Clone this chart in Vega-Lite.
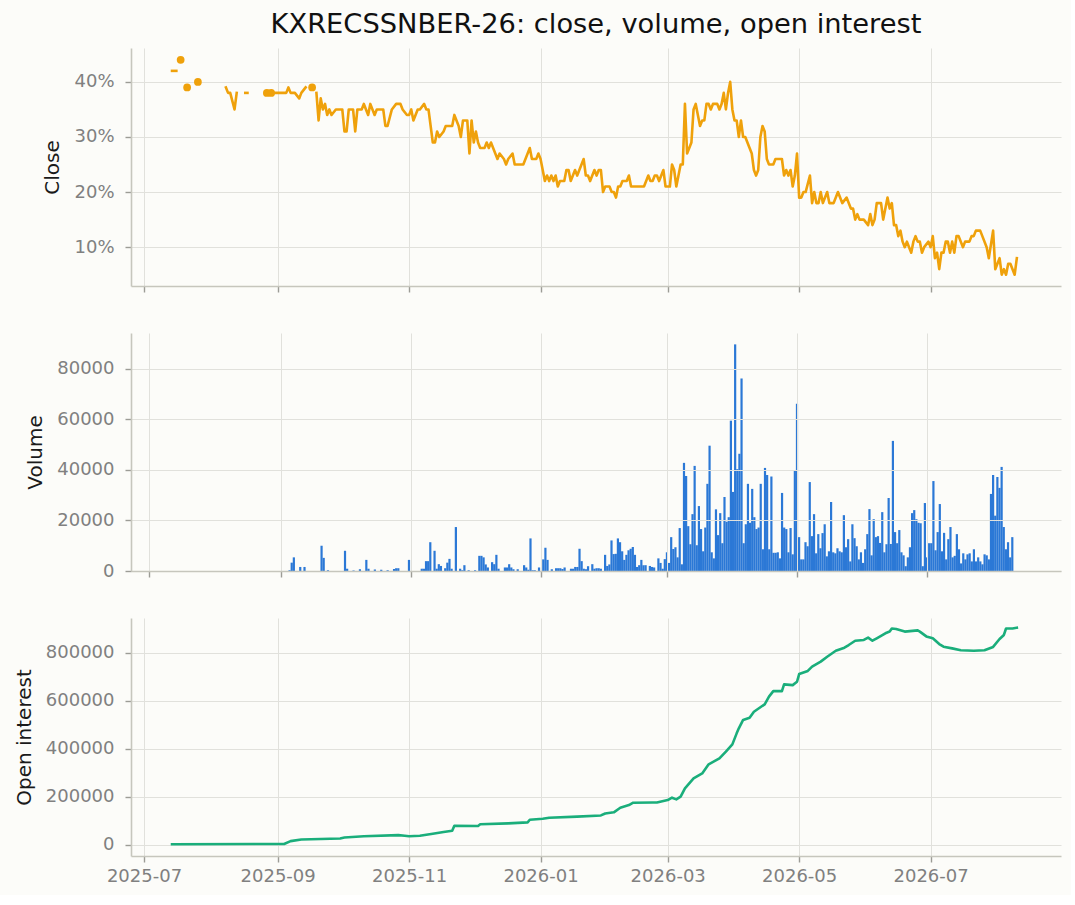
{
"$schema":"https://vega.github.io/schema/vega-lite/v6.json",
"background":"#fcfcf9",
"padding":{"left":14,"top":10,"right":10,"bottom":10},
"config":{
 "view":{"stroke":null},
 "axis":{"labelFont":"DejaVu Sans","labelFontSize":18,"labelColor":"#808080","titleFont":"DejaVu Sans","titleFontSize":20,"titleFontWeight":"normal","titleColor":"#1a1a1a","domainColor":"#c6c6bd","domainWidth":1.6,"tickColor":"#9c9c96","tickSize":6,"tickWidth":1.4,"gridColor":"#e1e1dc","gridWidth":1,"titlePadding":11,"labelFlush":false},
 "axisX":{"labelPadding":5},
 "axisY":{"labelPadding":11}
},
"datasets":{
"close":[
{"date":"2025-07-14","v":0.42,"seg":1},{"date":"2025-07-16","v":0.42,"seg":1},
{"date":"2025-07-18","v":0.44,"seg":2},
{"date":"2025-07-21","v":0.39,"seg":3},
{"date":"2025-07-26","v":0.40,"seg":4},
{"date":"2025-08-08","v":0.39,"seg":5},{"date":"2025-08-09","v":0.38,"seg":5},{"date":"2025-08-10","v":0.38,"seg":5},{"date":"2025-08-12","v":0.35,"seg":5},{"date":"2025-08-13","v":0.38,"seg":5},
{"date":"2025-08-17","v":0.38,"seg":6},{"date":"2025-08-18","v":0.38,"seg":6},
{"date":"2025-08-27","v":0.38,"seg":7},
{"date":"2025-08-29","v":0.38,"seg":8},
{"date":"2025-08-31","v":0.38,"seg":9},{"date":"2025-09-05","v":0.38,"seg":9},{"date":"2025-09-06","v":0.39,"seg":9},{"date":"2025-09-07","v":0.38,"seg":9},{"date":"2025-09-09","v":0.38,"seg":9},{"date":"2025-09-11","v":0.37,"seg":9},{"date":"2025-09-12","v":0.38,"seg":9},{"date":"2025-09-13","v":0.385,"seg":9},{"date":"2025-09-14","v":0.39,"seg":9},
{"date":"2025-09-17","v":0.39,"seg":10},
{"date":"2025-09-19","v":0.38,"seg":11},{"date":"2025-09-20","v":0.33,"seg":11},{"date":"2025-09-21","v":0.37,"seg":11},{"date":"2025-09-22","v":0.35,"seg":11},{"date":"2025-09-23","v":0.36,"seg":11},{"date":"2025-09-24","v":0.34,"seg":11},{"date":"2025-09-25","v":0.35,"seg":11},{"date":"2025-09-26","v":0.34,"seg":11},{"date":"2025-09-28","v":0.35,"seg":11},
{"date":"2025-10-01","v":0.35,"seg":11},{"date":"2025-10-02","v":0.31,"seg":11},{"date":"2025-10-03","v":0.31,"seg":11},{"date":"2025-10-04","v":0.35,"seg":11},{"date":"2025-10-06","v":0.35,"seg":11},{"date":"2025-10-07","v":0.31,"seg":11},{"date":"2025-10-08","v":0.35,"seg":11},{"date":"2025-10-10","v":0.35,"seg":11},{"date":"2025-10-11","v":0.36,"seg":11},{"date":"2025-10-13","v":0.34,"seg":11},{"date":"2025-10-14","v":0.36,"seg":11},{"date":"2025-10-16","v":0.34,"seg":11},{"date":"2025-10-17","v":0.35,"seg":11},{"date":"2025-10-20","v":0.35,"seg":11},{"date":"2025-10-21","v":0.32,"seg":11},{"date":"2025-10-22","v":0.32,"seg":11},{"date":"2025-10-24","v":0.35,"seg":11},{"date":"2025-10-26","v":0.36,"seg":11},{"date":"2025-10-28","v":0.36,"seg":11},{"date":"2025-10-29","v":0.35,"seg":11},{"date":"2025-10-31","v":0.34,"seg":11},
{"date":"2025-11-01","v":0.34,"seg":11},{"date":"2025-11-02","v":0.35,"seg":11},{"date":"2025-11-03","v":0.33,"seg":11},{"date":"2025-11-05","v":0.35,"seg":11},{"date":"2025-11-06","v":0.35,"seg":11},{"date":"2025-11-08","v":0.36,"seg":11},{"date":"2025-11-09","v":0.35,"seg":11},{"date":"2025-11-10","v":0.35,"seg":11},{"date":"2025-11-12","v":0.29,"seg":11},{"date":"2025-11-13","v":0.29,"seg":11},{"date":"2025-11-14","v":0.31,"seg":11},{"date":"2025-11-15","v":0.30,"seg":11},{"date":"2025-11-17","v":0.31,"seg":11},{"date":"2025-11-18","v":0.32,"seg":11},{"date":"2025-11-21","v":0.32,"seg":11},{"date":"2025-11-22","v":0.34,"seg":11},{"date":"2025-11-24","v":0.32,"seg":11},{"date":"2025-11-25","v":0.30,"seg":11},{"date":"2025-11-26","v":0.33,"seg":11},{"date":"2025-11-28","v":0.33,"seg":11},{"date":"2025-11-29","v":0.27,"seg":11},{"date":"2025-11-30","v":0.33,"seg":11},
{"date":"2025-12-01","v":0.29,"seg":11},{"date":"2025-12-02","v":0.31,"seg":11},{"date":"2025-12-03","v":0.29,"seg":11},{"date":"2025-12-04","v":0.28,"seg":11},{"date":"2025-12-06","v":0.28,"seg":11},{"date":"2025-12-07","v":0.29,"seg":11},{"date":"2025-12-08","v":0.28,"seg":11},{"date":"2025-12-09","v":0.29,"seg":11},{"date":"2025-12-11","v":0.27,"seg":11},{"date":"2025-12-12","v":0.26,"seg":11},{"date":"2025-12-13","v":0.27,"seg":11},{"date":"2025-12-15","v":0.26,"seg":11},{"date":"2025-12-16","v":0.25,"seg":11},{"date":"2025-12-17","v":0.26,"seg":11},{"date":"2025-12-19","v":0.27,"seg":11},{"date":"2025-12-20","v":0.25,"seg":11},{"date":"2025-12-24","v":0.25,"seg":11},{"date":"2025-12-25","v":0.26,"seg":11},{"date":"2025-12-27","v":0.28,"seg":11},{"date":"2025-12-28","v":0.26,"seg":11},{"date":"2025-12-30","v":0.26,"seg":11},{"date":"2025-12-31","v":0.27,"seg":11},
{"date":"2026-01-01","v":0.26,"seg":11},{"date":"2026-01-03","v":0.22,"seg":11},{"date":"2026-01-04","v":0.23,"seg":11},{"date":"2026-01-05","v":0.22,"seg":11},{"date":"2026-01-06","v":0.23,"seg":11},{"date":"2026-01-07","v":0.22,"seg":11},{"date":"2026-01-08","v":0.23,"seg":11},{"date":"2026-01-09","v":0.21,"seg":11},{"date":"2026-01-10","v":0.22,"seg":11},{"date":"2026-01-12","v":0.22,"seg":11},{"date":"2026-01-13","v":0.24,"seg":11},{"date":"2026-01-14","v":0.24,"seg":11},{"date":"2026-01-15","v":0.22,"seg":11},{"date":"2026-01-17","v":0.24,"seg":11},{"date":"2026-01-18","v":0.23,"seg":11},{"date":"2026-01-19","v":0.24,"seg":11},{"date":"2026-01-21","v":0.26,"seg":11},{"date":"2026-01-22","v":0.23,"seg":11},{"date":"2026-01-23","v":0.23,"seg":11},{"date":"2026-01-24","v":0.22,"seg":11},{"date":"2026-01-26","v":0.24,"seg":11},{"date":"2026-01-27","v":0.23,"seg":11},{"date":"2026-01-28","v":0.24,"seg":11},{"date":"2026-01-29","v":0.24,"seg":11},{"date":"2026-01-30","v":0.20,"seg":11},{"date":"2026-01-31","v":0.21,"seg":11},
{"date":"2026-02-02","v":0.21,"seg":11},{"date":"2026-02-03","v":0.20,"seg":11},{"date":"2026-02-04","v":0.20,"seg":11},{"date":"2026-02-05","v":0.19,"seg":11},{"date":"2026-02-06","v":0.21,"seg":11},{"date":"2026-02-07","v":0.21,"seg":11},{"date":"2026-02-08","v":0.22,"seg":11},{"date":"2026-02-10","v":0.22,"seg":11},{"date":"2026-02-11","v":0.23,"seg":11},{"date":"2026-02-12","v":0.21,"seg":11},{"date":"2026-02-18","v":0.21,"seg":11},{"date":"2026-02-20","v":0.23,"seg":11},{"date":"2026-02-21","v":0.22,"seg":11},{"date":"2026-02-22","v":0.22,"seg":11},{"date":"2026-02-23","v":0.23,"seg":11},{"date":"2026-02-24","v":0.23,"seg":11},{"date":"2026-02-25","v":0.22,"seg":11},{"date":"2026-02-27","v":0.24,"seg":11},{"date":"2026-02-28","v":0.21,"seg":11},
{"date":"2026-03-02","v":0.21,"seg":11},{"date":"2026-03-03","v":0.25,"seg":11},{"date":"2026-03-04","v":0.24,"seg":11},{"date":"2026-03-05","v":0.21,"seg":11},{"date":"2026-03-07","v":0.25,"seg":11},{"date":"2026-03-08","v":0.25,"seg":11},{"date":"2026-03-09","v":0.36,"seg":11},{"date":"2026-03-10","v":0.27,"seg":11},{"date":"2026-03-11","v":0.28,"seg":11},{"date":"2026-03-12","v":0.29,"seg":11},{"date":"2026-03-13","v":0.35,"seg":11},{"date":"2026-03-14","v":0.36,"seg":11},{"date":"2026-03-15","v":0.34,"seg":11},{"date":"2026-03-16","v":0.32,"seg":11},{"date":"2026-03-17","v":0.33,"seg":11},{"date":"2026-03-18","v":0.33,"seg":11},{"date":"2026-03-19","v":0.36,"seg":11},{"date":"2026-03-20","v":0.36,"seg":11},{"date":"2026-03-21","v":0.35,"seg":11},{"date":"2026-03-22","v":0.36,"seg":11},{"date":"2026-03-24","v":0.36,"seg":11},{"date":"2026-03-25","v":0.35,"seg":11},{"date":"2026-03-26","v":0.36,"seg":11},{"date":"2026-03-27","v":0.38,"seg":11},{"date":"2026-03-28","v":0.35,"seg":11},{"date":"2026-03-29","v":0.38,"seg":11},{"date":"2026-03-30","v":0.40,"seg":11},{"date":"2026-03-31","v":0.35,"seg":11},
{"date":"2026-04-01","v":0.33,"seg":11},{"date":"2026-04-02","v":0.33,"seg":11},{"date":"2026-04-03","v":0.30,"seg":11},{"date":"2026-04-04","v":0.33,"seg":11},{"date":"2026-04-05","v":0.30,"seg":11},{"date":"2026-04-06","v":0.30,"seg":11},{"date":"2026-04-08","v":0.28,"seg":11},{"date":"2026-04-09","v":0.27,"seg":11},{"date":"2026-04-10","v":0.24,"seg":11},{"date":"2026-04-11","v":0.23,"seg":11},{"date":"2026-04-12","v":0.24,"seg":11},{"date":"2026-04-13","v":0.30,"seg":11},{"date":"2026-04-14","v":0.32,"seg":11},{"date":"2026-04-15","v":0.31,"seg":11},{"date":"2026-04-16","v":0.26,"seg":11},{"date":"2026-04-17","v":0.25,"seg":11},{"date":"2026-04-19","v":0.25,"seg":11},{"date":"2026-04-20","v":0.26,"seg":11},{"date":"2026-04-23","v":0.26,"seg":11},{"date":"2026-04-24","v":0.23,"seg":11},{"date":"2026-04-25","v":0.24,"seg":11},{"date":"2026-04-26","v":0.23,"seg":11},{"date":"2026-04-27","v":0.24,"seg":11},{"date":"2026-04-28","v":0.21,"seg":11},{"date":"2026-04-29","v":0.23,"seg":11},{"date":"2026-04-30","v":0.27,"seg":11},
{"date":"2026-05-01","v":0.19,"seg":11},{"date":"2026-05-02","v":0.19,"seg":11},{"date":"2026-05-03","v":0.20,"seg":11},{"date":"2026-05-04","v":0.20,"seg":11},{"date":"2026-05-06","v":0.23,"seg":11},{"date":"2026-05-07","v":0.18,"seg":11},{"date":"2026-05-08","v":0.20,"seg":11},{"date":"2026-05-09","v":0.18,"seg":11},{"date":"2026-05-10","v":0.18,"seg":11},{"date":"2026-05-11","v":0.20,"seg":11},{"date":"2026-05-12","v":0.18,"seg":11},{"date":"2026-05-14","v":0.20,"seg":11},{"date":"2026-05-15","v":0.18,"seg":11},{"date":"2026-05-17","v":0.18,"seg":11},{"date":"2026-05-19","v":0.20,"seg":11},{"date":"2026-05-20","v":0.19,"seg":11},{"date":"2026-05-21","v":0.18,"seg":11},{"date":"2026-05-23","v":0.19,"seg":11},{"date":"2026-05-24","v":0.18,"seg":11},{"date":"2026-05-25","v":0.17,"seg":11},{"date":"2026-05-26","v":0.17,"seg":11},{"date":"2026-05-27","v":0.15,"seg":11},{"date":"2026-05-28","v":0.16,"seg":11},{"date":"2026-05-29","v":0.15,"seg":11},{"date":"2026-05-31","v":0.15,"seg":11},
{"date":"2026-06-02","v":0.14,"seg":11},{"date":"2026-06-03","v":0.16,"seg":11},{"date":"2026-06-04","v":0.14,"seg":11},{"date":"2026-06-05","v":0.15,"seg":11},{"date":"2026-06-06","v":0.18,"seg":11},{"date":"2026-06-08","v":0.18,"seg":11},{"date":"2026-06-09","v":0.15,"seg":11},{"date":"2026-06-10","v":0.17,"seg":11},{"date":"2026-06-11","v":0.19,"seg":11},{"date":"2026-06-12","v":0.17,"seg":11},{"date":"2026-06-13","v":0.18,"seg":11},{"date":"2026-06-14","v":0.14,"seg":11},{"date":"2026-06-15","v":0.14,"seg":11},{"date":"2026-06-16","v":0.12,"seg":11},{"date":"2026-06-17","v":0.13,"seg":11},{"date":"2026-06-18","v":0.11,"seg":11},{"date":"2026-06-19","v":0.10,"seg":11},{"date":"2026-06-20","v":0.11,"seg":11},{"date":"2026-06-21","v":0.10,"seg":11},{"date":"2026-06-22","v":0.09,"seg":11},{"date":"2026-06-23","v":0.11,"seg":11},{"date":"2026-06-24","v":0.12,"seg":11},{"date":"2026-06-25","v":0.11,"seg":11},{"date":"2026-06-26","v":0.11,"seg":11},{"date":"2026-06-27","v":0.09,"seg":11},{"date":"2026-06-28","v":0.10,"seg":11},{"date":"2026-06-30","v":0.11,"seg":11},
{"date":"2026-07-01","v":0.10,"seg":11},{"date":"2026-07-02","v":0.12,"seg":11},{"date":"2026-07-03","v":0.08,"seg":11},{"date":"2026-07-04","v":0.09,"seg":11},{"date":"2026-07-05","v":0.06,"seg":11},{"date":"2026-07-06","v":0.09,"seg":11},{"date":"2026-07-07","v":0.09,"seg":11},{"date":"2026-07-08","v":0.11,"seg":11},{"date":"2026-07-09","v":0.11,"seg":11},{"date":"2026-07-10","v":0.09,"seg":11},{"date":"2026-07-11","v":0.11,"seg":11},{"date":"2026-07-12","v":0.09,"seg":11},{"date":"2026-07-13","v":0.12,"seg":11},{"date":"2026-07-14","v":0.12,"seg":11},{"date":"2026-07-16","v":0.10,"seg":11},{"date":"2026-07-17","v":0.11,"seg":11},{"date":"2026-07-19","v":0.11,"seg":11},{"date":"2026-07-20","v":0.12,"seg":11},{"date":"2026-07-21","v":0.12,"seg":11},{"date":"2026-07-22","v":0.13,"seg":11},{"date":"2026-07-24","v":0.13,"seg":11},{"date":"2026-07-25","v":0.12,"seg":11},{"date":"2026-07-27","v":0.10,"seg":11},{"date":"2026-07-28","v":0.08,"seg":11},{"date":"2026-07-30","v":0.13,"seg":11},{"date":"2026-07-31","v":0.06,"seg":11},
{"date":"2026-08-02","v":0.08,"seg":11},{"date":"2026-08-03","v":0.05,"seg":11},{"date":"2026-08-04","v":0.06,"seg":11},{"date":"2026-08-05","v":0.05,"seg":11},{"date":"2026-08-06","v":0.07,"seg":11},{"date":"2026-08-07","v":0.07,"seg":11},{"date":"2026-08-09","v":0.05,"seg":11},{"date":"2026-08-10","v":0.08,"seg":11}
],
"volume":[
{"date":"2025-09-05","v":300},{"date":"2025-09-06","v":3300},{"date":"2025-09-07","v":5400},{"date":"2025-09-10","v":1600},{"date":"2025-09-12","v":1600},{"date":"2025-09-20","v":10000},{"date":"2025-09-21","v":5200},{"date":"2025-09-23","v":300},
{"date":"2025-10-01","v":8000},{"date":"2025-10-02","v":900},{"date":"2025-10-05","v":200},{"date":"2025-10-08","v":700},{"date":"2025-10-11","v":4400},{"date":"2025-10-12","v":900},{"date":"2025-10-15","v":600},{"date":"2025-10-18","v":500},{"date":"2025-10-21","v":300},{"date":"2025-10-24","v":800},{"date":"2025-10-25","v":1100},{"date":"2025-10-26","v":1100},{"date":"2025-10-31","v":4400},
{"date":"2025-11-06","v":900},{"date":"2025-11-07","v":900},{"date":"2025-11-08","v":3900},{"date":"2025-11-09","v":3900},{"date":"2025-11-10","v":11400},{"date":"2025-11-12","v":8000},{"date":"2025-11-13","v":900},{"date":"2025-11-14","v":2700},{"date":"2025-11-15","v":2000},{"date":"2025-11-17","v":1100},{"date":"2025-11-18","v":3300},{"date":"2025-11-19","v":4800},{"date":"2025-11-20","v":900},{"date":"2025-11-22","v":17400},{"date":"2025-11-24","v":900},{"date":"2025-11-25","v":300},{"date":"2025-11-26","v":2300},{"date":"2025-11-28","v":300},
{"date":"2025-12-01","v":300},{"date":"2025-12-03","v":6000},{"date":"2025-12-04","v":6000},{"date":"2025-12-05","v":5400},{"date":"2025-12-06","v":2600},{"date":"2025-12-07","v":1400},{"date":"2025-12-09","v":3500},{"date":"2025-12-10","v":2700},{"date":"2025-12-11","v":6400},{"date":"2025-12-12","v":900},{"date":"2025-12-15","v":1400},{"date":"2025-12-16","v":1400},{"date":"2025-12-17","v":2700},{"date":"2025-12-18","v":1400},{"date":"2025-12-19","v":700},{"date":"2025-12-21","v":700},{"date":"2025-12-24","v":2300},{"date":"2025-12-25","v":1400},{"date":"2025-12-26","v":500},{"date":"2025-12-27","v":12900},{"date":"2025-12-28","v":300},{"date":"2025-12-29","v":300},{"date":"2025-12-31","v":1400},
{"date":"2026-01-02","v":4600},{"date":"2026-01-03","v":9200},{"date":"2026-01-04","v":4400},{"date":"2026-01-06","v":700},{"date":"2026-01-08","v":1100},{"date":"2026-01-09","v":1100},{"date":"2026-01-10","v":1100},{"date":"2026-01-11","v":800},{"date":"2026-01-12","v":1400},{"date":"2026-01-15","v":900},{"date":"2026-01-16","v":900},{"date":"2026-01-17","v":1600},{"date":"2026-01-18","v":1600},{"date":"2026-01-19","v":8800},{"date":"2026-01-20","v":3900},{"date":"2026-01-21","v":900},{"date":"2026-01-22","v":700},{"date":"2026-01-23","v":1900},{"date":"2026-01-25","v":2700},{"date":"2026-01-26","v":900},{"date":"2026-01-27","v":1100},{"date":"2026-01-28","v":1100},{"date":"2026-01-29","v":900},{"date":"2026-01-31","v":6400},
{"date":"2026-02-01","v":2000},{"date":"2026-02-02","v":2600},{"date":"2026-02-03","v":12100},{"date":"2026-02-04","v":6700},{"date":"2026-02-05","v":6800},{"date":"2026-02-06","v":12900},{"date":"2026-02-07","v":11400},{"date":"2026-02-08","v":7800},{"date":"2026-02-09","v":4400},{"date":"2026-02-10","v":6400},{"date":"2026-02-11","v":8200},{"date":"2026-02-12","v":8800},{"date":"2026-02-13","v":9500},{"date":"2026-02-14","v":6400},{"date":"2026-02-15","v":1600},{"date":"2026-02-16","v":2300},{"date":"2026-02-17","v":4400},{"date":"2026-02-18","v":2300},{"date":"2026-02-19","v":2300},{"date":"2026-02-21","v":2000},{"date":"2026-02-22","v":1600},{"date":"2026-02-23","v":1400},{"date":"2026-02-25","v":5000},{"date":"2026-02-26","v":3200},{"date":"2026-02-27","v":900},{"date":"2026-02-28","v":4700},
{"date":"2026-03-01","v":7400},{"date":"2026-03-02","v":3200},{"date":"2026-03-03","v":13400},{"date":"2026-03-04","v":8700},{"date":"2026-03-05","v":9400},{"date":"2026-03-06","v":5400},{"date":"2026-03-07","v":17000},{"date":"2026-03-08","v":2650},{"date":"2026-03-09","v":42800},{"date":"2026-03-10","v":37600},{"date":"2026-03-11","v":17750},{"date":"2026-03-12","v":10600},{"date":"2026-03-13","v":22500},{"date":"2026-03-14","v":41600},{"date":"2026-03-15","v":10200},{"date":"2026-03-16","v":25700},{"date":"2026-03-17","v":16600},{"date":"2026-03-18","v":7800},{"date":"2026-03-19","v":17200},{"date":"2026-03-20","v":34500},{"date":"2026-03-21","v":49600},{"date":"2026-03-22","v":7400},{"date":"2026-03-23","v":5000},{"date":"2026-03-24","v":24400},{"date":"2026-03-25","v":14200},{"date":"2026-03-26","v":22900},{"date":"2026-03-27","v":11000},{"date":"2026-03-28","v":29300},{"date":"2026-03-29","v":19500},{"date":"2026-03-30","v":21300},{"date":"2026-03-31","v":59500},
{"date":"2026-04-01","v":31300},{"date":"2026-04-02","v":89700},{"date":"2026-04-03","v":40300},{"date":"2026-04-04","v":46400},{"date":"2026-04-05","v":76200},{"date":"2026-04-06","v":11000},{"date":"2026-04-07","v":18500},{"date":"2026-04-08","v":34500},{"date":"2026-04-09","v":19100},{"date":"2026-04-10","v":32500},{"date":"2026-04-11","v":21300},{"date":"2026-04-12","v":16600},{"date":"2026-04-13","v":17200},{"date":"2026-04-14","v":34500},{"date":"2026-04-15","v":8600},{"date":"2026-04-16","v":40800},{"date":"2026-04-17","v":38000},{"date":"2026-04-18","v":8600},{"date":"2026-04-19","v":37400},{"date":"2026-04-20","v":7200},{"date":"2026-04-21","v":7200},{"date":"2026-04-22","v":7400},{"date":"2026-04-23","v":5000},{"date":"2026-04-24","v":30900},{"date":"2026-04-25","v":17200},{"date":"2026-04-26","v":16600},{"date":"2026-04-27","v":7400},{"date":"2026-04-28","v":17000},{"date":"2026-04-29","v":6600},{"date":"2026-04-30","v":39600},
{"date":"2026-05-01","v":66200},{"date":"2026-05-02","v":13400},{"date":"2026-05-03","v":4600},{"date":"2026-05-04","v":4600},{"date":"2026-05-05","v":11400},{"date":"2026-05-06","v":9800},{"date":"2026-05-07","v":35200},{"date":"2026-05-08","v":13800},{"date":"2026-05-09","v":22500},{"date":"2026-05-10","v":7000},{"date":"2026-05-11","v":14600},{"date":"2026-05-12","v":9000},{"date":"2026-05-13","v":15000},{"date":"2026-05-14","v":18500},{"date":"2026-05-15","v":5800},{"date":"2026-05-16","v":7800},{"date":"2026-05-17","v":27300},{"date":"2026-05-18","v":7400},{"date":"2026-05-19","v":7000},{"date":"2026-05-20","v":9000},{"date":"2026-05-21","v":7800},{"date":"2026-05-22","v":7400},{"date":"2026-05-23","v":22100},{"date":"2026-05-24","v":9400},{"date":"2026-05-25","v":12600},{"date":"2026-05-26","v":3800},{"date":"2026-05-27","v":18500},{"date":"2026-05-28","v":13000},{"date":"2026-05-29","v":9800},{"date":"2026-05-30","v":4600},{"date":"2026-05-31","v":7400},
{"date":"2026-06-01","v":3200},{"date":"2026-06-02","v":8600},{"date":"2026-06-03","v":14600},{"date":"2026-06-04","v":24500},{"date":"2026-06-05","v":6200},{"date":"2026-06-06","v":20500},{"date":"2026-06-07","v":13400},{"date":"2026-06-08","v":13800},{"date":"2026-06-09","v":11100},{"date":"2026-06-10","v":23300},{"date":"2026-06-11","v":7400},{"date":"2026-06-12","v":10600},{"date":"2026-06-13","v":28900},{"date":"2026-06-14","v":10700},{"date":"2026-06-15","v":51500},{"date":"2026-06-16","v":15400},{"date":"2026-06-17","v":11000},{"date":"2026-06-18","v":16200},{"date":"2026-06-19","v":7400},{"date":"2026-06-20","v":6200},{"date":"2026-06-21","v":1900},{"date":"2026-06-22","v":5400},{"date":"2026-06-23","v":9400},{"date":"2026-06-24","v":22900},{"date":"2026-06-25","v":24100},{"date":"2026-06-26","v":20500},{"date":"2026-06-27","v":19100},{"date":"2026-06-28","v":18900},{"date":"2026-06-29","v":1900},{"date":"2026-06-30","v":26900},
{"date":"2026-07-01","v":5400},{"date":"2026-07-02","v":11000},{"date":"2026-07-03","v":11000},{"date":"2026-07-04","v":35600},{"date":"2026-07-05","v":8200},{"date":"2026-07-06","v":15400},{"date":"2026-07-07","v":26500},{"date":"2026-07-08","v":7800},{"date":"2026-07-09","v":15100},{"date":"2026-07-10","v":4600},{"date":"2026-07-11","v":12600},{"date":"2026-07-12","v":17400},{"date":"2026-07-13","v":5400},{"date":"2026-07-14","v":6000},{"date":"2026-07-15","v":14600},{"date":"2026-07-16","v":8600},{"date":"2026-07-17","v":3000},{"date":"2026-07-18","v":7000},{"date":"2026-07-19","v":4600},{"date":"2026-07-20","v":6600},{"date":"2026-07-21","v":7000},{"date":"2026-07-22","v":3800},{"date":"2026-07-23","v":8600},{"date":"2026-07-24","v":3800},{"date":"2026-07-25","v":5400},{"date":"2026-07-26","v":3800},{"date":"2026-07-27","v":2650},{"date":"2026-07-28","v":6600},{"date":"2026-07-29","v":6200},{"date":"2026-07-30","v":4600},{"date":"2026-07-31","v":30500},
{"date":"2026-08-01","v":38000},{"date":"2026-08-02","v":21900},{"date":"2026-08-03","v":37200},{"date":"2026-08-04","v":32900},{"date":"2026-08-05","v":41200},{"date":"2026-08-06","v":17400},{"date":"2026-08-07","v":8600},{"date":"2026-08-08","v":11400},{"date":"2026-08-09","v":5400},{"date":"2026-08-10","v":13400}
],
"oi":[
{"date":"2025-07-14","v":2000},{"date":"2025-09-04","v":3000},{"date":"2025-09-07","v":15000},{"date":"2025-09-12","v":22000},{"date":"2025-09-30","v":26000},{"date":"2025-10-02","v":30000},{"date":"2025-10-11","v":35000},{"date":"2025-10-27","v":40000},{"date":"2025-10-30","v":37500},{"date":"2025-11-01","v":35000},{"date":"2025-11-06","v":37500},{"date":"2025-11-12","v":46000},{"date":"2025-11-17","v":53000},{"date":"2025-11-21","v":58000},{"date":"2025-11-22","v":79000},{"date":"2025-12-03","v":78000},{"date":"2025-12-04","v":85000},{"date":"2025-12-17","v":89000},{"date":"2025-12-26","v":93000},{"date":"2025-12-27","v":104000},
{"date":"2026-01-02","v":108000},{"date":"2026-01-05","v":112500},{"date":"2026-01-18","v":117000},{"date":"2026-01-29","v":122000},{"date":"2026-01-31","v":130000},{"date":"2026-02-04","v":135000},{"date":"2026-02-07","v":154000},{"date":"2026-02-11","v":165000},{"date":"2026-02-13","v":175000},{"date":"2026-02-22","v":176000},{"date":"2026-02-24","v":176000},
{"date":"2026-03-01","v":186000},{"date":"2026-03-03","v":196000},{"date":"2026-03-05","v":189000},{"date":"2026-03-07","v":200000},{"date":"2026-03-09","v":235000},{"date":"2026-03-13","v":276000},{"date":"2026-03-17","v":297000},{"date":"2026-03-20","v":335000},{"date":"2026-03-25","v":360000},{"date":"2026-03-28","v":388000},{"date":"2026-03-31","v":418000},
{"date":"2026-04-02","v":464000},{"date":"2026-04-03","v":485000},{"date":"2026-04-05","v":520000},{"date":"2026-04-08","v":529000},{"date":"2026-04-10","v":554000},{"date":"2026-04-15","v":585000},{"date":"2026-04-17","v":617000},{"date":"2026-04-19","v":640000},{"date":"2026-04-23","v":640000},{"date":"2026-04-24","v":668000},{"date":"2026-04-28","v":665000},{"date":"2026-04-30","v":679000},
{"date":"2026-05-01","v":711000},{"date":"2026-05-05","v":724000},{"date":"2026-05-07","v":742000},{"date":"2026-05-11","v":763000},{"date":"2026-05-14","v":783000},{"date":"2026-05-18","v":808000},{"date":"2026-05-22","v":821000},{"date":"2026-05-24","v":832000},{"date":"2026-05-27","v":850000},{"date":"2026-05-31","v":853000},
{"date":"2026-06-02","v":863000},{"date":"2026-06-04","v":850000},{"date":"2026-06-06","v":860000},{"date":"2026-06-10","v":881000},{"date":"2026-06-12","v":888000},{"date":"2026-06-13","v":901000},{"date":"2026-06-15","v":899000},{"date":"2026-06-19","v":888000},{"date":"2026-06-25","v":893000},{"date":"2026-06-26","v":888000},{"date":"2026-06-29","v":868000},
{"date":"2026-07-02","v":860000},{"date":"2026-07-05","v":836000},{"date":"2026-07-07","v":825000},{"date":"2026-07-11","v":818000},{"date":"2026-07-15","v":810000},{"date":"2026-07-21","v":808000},{"date":"2026-07-26","v":810000},{"date":"2026-07-30","v":824000},
{"date":"2026-08-02","v":857000},{"date":"2026-08-04","v":874000},{"date":"2026-08-05","v":901000},{"date":"2026-08-08","v":901000},{"date":"2026-08-10","v":904000}
]
},
"spacing":47,
"bounds":"flush",
"vconcat":[
{
 "width":930,"height":238,
 "title":{"text":"KXRECSSNBER-26: close, volume, open interest","font":"DejaVu Sans","fontSize":27.3,"fontWeight":"normal","color":"#111111","anchor":"middle","frame":"group","offset":10},
 "data":{"name":"close"},
 "layer":[
  {"mark":{"type":"line","color":"#efa10b","strokeWidth":2.6,"strokeCap":"square","strokeJoin":"round"},
   "encoding":{
    "x":{"field":"date","type":"temporal","scale":{"type":"utc","domain":[{"year":2025,"month":6,"date":24,"hours":23,"utc":true},{"year":2026,"month":8,"date":30,"hours":12,"utc":true}],"nice":false},
         "axis":{"title":null,"labels":false,"values":[{"year":2025,"month":7,"date":1,"utc":true},{"year":2025,"month":9,"date":1,"utc":true},{"year":2025,"month":11,"date":1,"utc":true},{"year":2026,"month":1,"date":1,"utc":true},{"year":2026,"month":3,"date":1,"utc":true},{"year":2026,"month":5,"date":1,"utc":true},{"year":2026,"month":7,"date":1,"utc":true}]}},
    "y":{"field":"v","type":"quantitative","scale":{"domain":[0.0295,0.4615],"nice":false,"zero":false},"axis":{"title":"Close","values":[0.1,0.2,0.3,0.4],"format":".0%"}},
    "detail":{"field":"seg","type":"nominal"}
   }},
  {"transform":[{"joinaggregate":[{"op":"count","as":"n"}],"groupby":["seg"]},{"filter":"datum.n == 1"}],
   "mark":{"type":"point","filled":true,"size":60,"color":"#efa10b","opacity":1},
   "encoding":{
    "x":{"field":"date","type":"temporal"},
    "y":{"field":"v","type":"quantitative"}
   }}
 ]
},
{
 "width":930,"height":238,
 "data":{"name":"volume"},
 "mark":{"type":"bar","color":"#2b78d6","width":2.2},
 "encoding":{
  "x":{"field":"date","type":"temporal","scale":{"type":"utc","domain":[{"year":2025,"month":6,"date":24,"hours":23,"utc":true},{"year":2026,"month":8,"date":30,"hours":12,"utc":true}],"nice":false},
       "axis":{"title":null,"labels":false,"zindex":1,"values":[{"year":2025,"month":7,"date":1,"utc":true},{"year":2025,"month":9,"date":1,"utc":true},{"year":2025,"month":11,"date":1,"utc":true},{"year":2026,"month":1,"date":1,"utc":true},{"year":2026,"month":3,"date":1,"utc":true},{"year":2026,"month":5,"date":1,"utc":true},{"year":2026,"month":7,"date":1,"utc":true}]}},
  "y":{"field":"v","type":"quantitative","scale":{"domain":[0,94200],"nice":false},"axis":{"title":"Volume","zindex":1,"values":[0,20000,40000,60000,80000],"format":"d"}}
 }
},
{
 "width":930,"height":238,
 "data":{"name":"oi"},
 "mark":{"type":"line","color":"#1aae7b","strokeWidth":2.6,"strokeCap":"square","strokeJoin":"round"},
 "encoding":{
  "x":{"field":"date","type":"temporal","scale":{"type":"utc","domain":[{"year":2025,"month":6,"date":24,"hours":23,"utc":true},{"year":2026,"month":8,"date":30,"hours":12,"utc":true}],"nice":false},
       "axis":{"title":null,"format":"%Y-%m","values":[{"year":2025,"month":7,"date":1,"utc":true},{"year":2025,"month":9,"date":1,"utc":true},{"year":2025,"month":11,"date":1,"utc":true},{"year":2026,"month":1,"date":1,"utc":true},{"year":2026,"month":3,"date":1,"utc":true},{"year":2026,"month":5,"date":1,"utc":true},{"year":2026,"month":7,"date":1,"utc":true}]}},
  "y":{"field":"v","type":"quantitative","scale":{"domain":[-47000,944600],"nice":false,"zero":false},"axis":{"title":"Open interest","values":[0,200000,400000,600000,800000],"format":"d"}}
 }
}
]
}
